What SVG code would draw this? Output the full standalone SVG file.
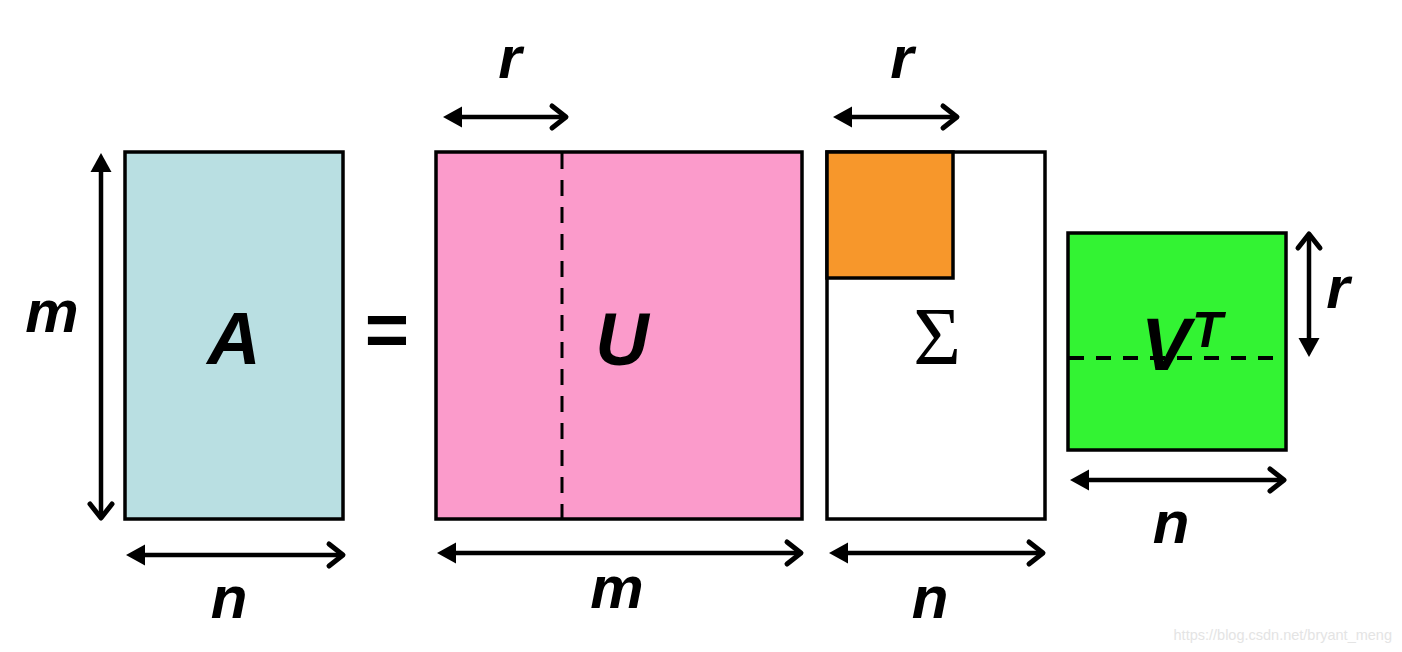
<svg xmlns="http://www.w3.org/2000/svg" width="1402" height="652" viewBox="0 0 1402 652">
<style>
.box{stroke:#000;stroke-width:3.5}
.lbl{font-family:"Liberation Sans",Arial,sans-serif;font-weight:bold;font-style:italic;fill:#000;text-anchor:middle}
.sm{font-size:60px}
.big{font-size:74px}
.dim{stroke:#000;stroke-width:4.5;fill:none;marker-start:url(#tri);marker-end:url(#chev)}
.dash{stroke:#000;stroke-width:3;stroke-dasharray:16 11}
</style>
<defs>
<marker id="tri" markerUnits="userSpaceOnUse" markerWidth="24" markerHeight="24" viewBox="0 -12 20 24" refX="5" refY="0" orient="auto-start-reverse">
<path d="M0,-10.5 L19,0 L0,10.5 z" fill="#000"/>
</marker>
<marker id="chev" markerUnits="userSpaceOnUse" markerWidth="20" markerHeight="26" viewBox="-16 -13 20 26" refX="0" refY="0" orient="auto" overflow="visible">
<path d="M-14,-11 L0,0 L-14,11" fill="none" stroke="#000" stroke-width="5" stroke-linecap="round" stroke-linejoin="round"/>
</marker>
</defs>
<rect width="1402" height="652" fill="#fff"/>

<g id="nodeA">
<rect class="box" x="125" y="152" width="218" height="367" fill="#b9dfe2"/>
<text class="lbl big" x="234" y="364">A</text>
</g>

<g id="equals">
<text x="387" y="356" font-family="Liberation Sans,Arial,sans-serif" font-weight="bold" font-size="76" text-anchor="middle" fill="#000">=</text>
</g>

<g id="nodeU">
<rect class="box" x="436" y="152" width="366" height="367" fill="#fb9bcb"/>
<line class="dash" x1="562" y1="153" x2="562" y2="518"/>
<text class="lbl big" x="622" y="365">U</text>
</g>

<g id="nodeSigma">
<rect class="box" x="827" y="152" width="218" height="367" fill="#fff"/>
<rect class="box" x="827" y="152" width="126" height="126" fill="#f7972b"/>
<text x="937" y="364" font-family="Liberation Serif,Times New Roman,serif" font-size="82" text-anchor="middle" fill="#000">Σ</text>
</g>

<g id="nodeVT">
<rect class="box" x="1068" y="233" width="218" height="217" fill="#33f333"/>
<line class="dash" x1="1069" y1="358" x2="1285" y2="358" style="stroke-width:4;stroke-dasharray:15 12"/>
<text class="lbl" x="1141" y="370" font-size="74" style="text-anchor:start">V</text>
<text class="lbl" x="1192" y="347" font-size="50" style="text-anchor:start">T</text>
</g>

<g id="connectors">
<line class="dim" x1="101" y1="167" x2="101" y2="518"/>
<line class="dim" x1="140" y1="555" x2="343" y2="555"/>
<line class="dim" x1="457" y1="117" x2="566" y2="117"/>
<line class="dim" x1="451" y1="553" x2="801" y2="553"/>
<line class="dim" x1="847" y1="117" x2="957" y2="117"/>
<line class="dim" x1="843" y1="553" x2="1043" y2="553"/>
<line class="dim" x1="1309" y1="343" x2="1309" y2="234"/>
<line class="dim" x1="1084" y1="480" x2="1284" y2="480"/>
</g>

<g id="labels">
<text class="lbl sm" x="52" y="332">m</text>
<text class="lbl sm" x="229" y="618">n</text>
<text class="lbl sm" x="510" y="78">r</text>
<text class="lbl sm" x="617" y="608">m</text>
<text class="lbl sm" x="902" y="78">r</text>
<text class="lbl sm" x="930" y="618">n</text>
<text class="lbl sm" x="1338" y="308">r</text>
<text class="lbl sm" x="1171" y="543">n</text>
</g>

<text x="1392" y="640" font-family="Liberation Sans,Arial,sans-serif" font-size="14.5" fill="#e4e4e4" text-anchor="end">https://blog.csdn.net/bryant_meng</text>
</svg>
